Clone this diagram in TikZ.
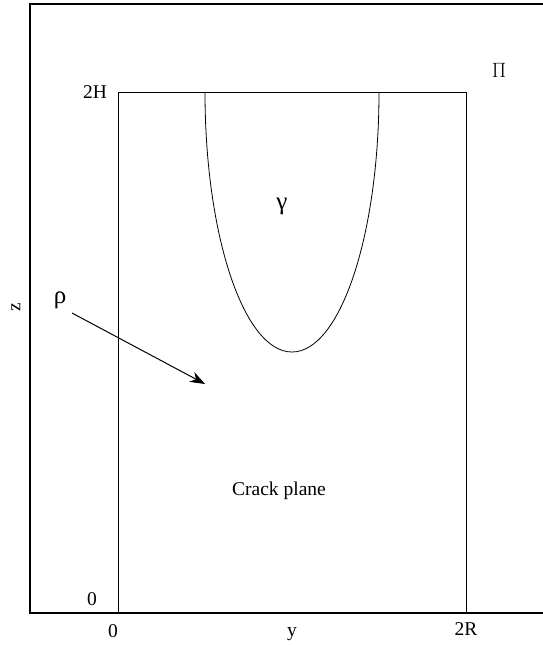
\documentclass[tikz,border=0pt]{standalone}
\usepackage{fontspec}
\setmainfont{Liberation Serif}
\usetikzlibrary{arrows.meta}
\begin{document}
\begin{tikzpicture}[x=1pt,y=-1pt,
lbl/.style={font=\fontsize{19.5}{23}\selectfont, inner sep=0pt},
greek/.style={font=\fontsize{25}{28}\selectfont, inner sep=0pt},
frame/.style={line width=1.6pt},
plate/.style={line width=0.8pt},
arrow/.style={-{Stealth[length=15pt,width=11pt]}, line width=1pt}
]
\useasboundingbox (0,0) rectangle (543,645);
% outer frame (plane Pi)
\draw[frame] (543,4) -- (30,4) -- (30,613) -- (543,613);
% crack plane and front
\draw[plate] (118,613) -- (118,92) -- (466,92) -- (466,613);
\draw[plate] (205,92) arc[start angle=180, end angle=0, x radius=87, y radius=260];
% labels
\node[lbl] (pi) at (499,70) {$\Pi$};
\node[greek] (gamma) at (282,206) {γ};
\node[greek] (rho) at (60,300) {ρ};
\node[lbl] (crack) at (279,491) {Crack plane};
\node[lbl, rotate=90] (zax) at (16,307) {z};
\node[lbl] (yax) at (292,634) {y};
\node[lbl] (htop) at (95,92) {2H};
\node[lbl] (hzero) at (92,599) {0};
\node[lbl] (rzero) at (113,631) {0};
\node[lbl] (rtop) at (466,629) {2R};
% direction rho
\coordinate (arrA) at (72,313);
\coordinate (arrB) at (205,384);
\draw[arrow] (arrA) -- (arrB);
\end{tikzpicture}
\end{document}
